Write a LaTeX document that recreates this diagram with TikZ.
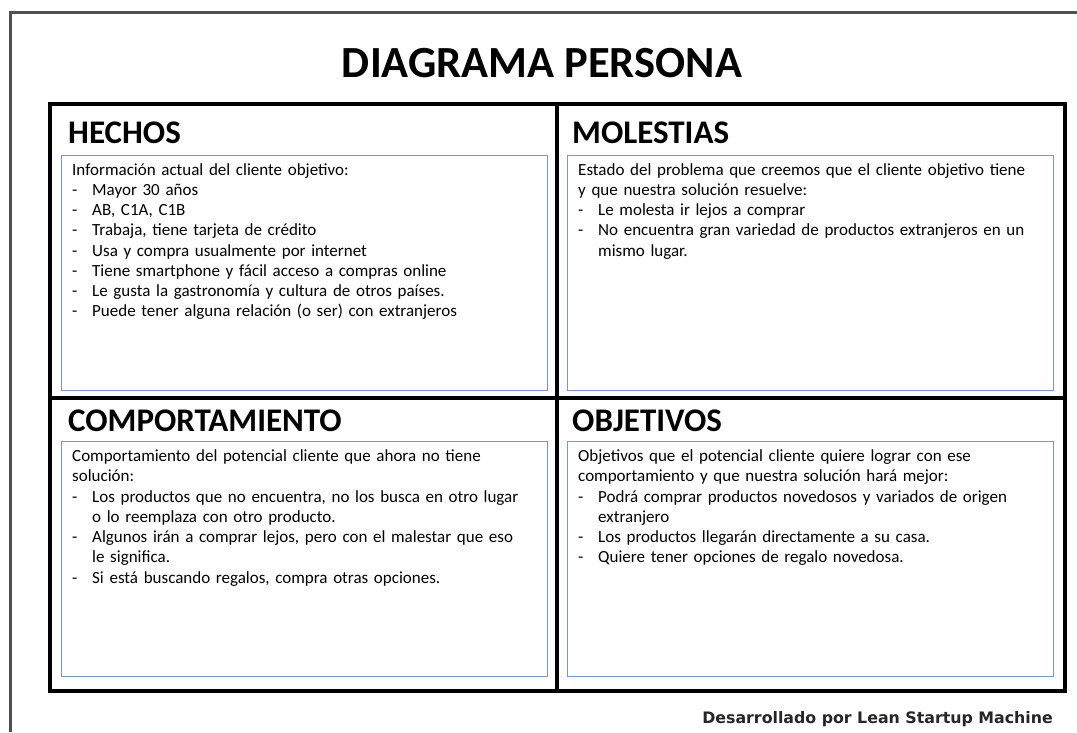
\documentclass[tikz,border=0pt]{standalone}
\usepackage{fontspec}
\setmainfont{Carlito}
\newfontfamily\creditfont{DejaVu Sans}
\usetikzlibrary{positioning}
\definecolor{panelblue}{RGB}{118,150,216}
\definecolor{framegray}{RGB}{80,80,80}
\newcommand{\dashitem}{\makebox[20pt][l]{-}}
\newcommand{\hangon}{\hspace*{20pt}}

\begin{document}
\begin{tikzpicture}
[x=1pt, y=-1pt,
   panel/.style={shape=rectangle, draw=panelblue, line width=1pt, minimum width=486pt, minimum height=235pt, anchor=north west, inner sep=0pt},
   heading/.style={anchor=base west, inner sep=0pt, font=\bfseries\fontsize{33}{33}\selectfont},
   body/.style={anchor=base west, inner sep=0pt, text width=480pt, align=left, font=\fontsize{17}{20.25}\selectfont}]
\useasboundingbox (0,0) rectangle (1077,732);
% page frame
\draw[framegray, line width=3pt] (10,732) -- (10,12.5) -- (1077,12.5);
\node[anchor=base, inner sep=0pt, font=\bfseries\fontsize{44.5}{44.5}\selectfont] (title) at (542,77.7) {DIAGRAMA PERSONA};
% grid of the four quadrants
\draw[line width=4pt] (50,104) rectangle (1065,691);
\draw[line width=4pt] (557,104) -- (557,691);
\draw[line width=4pt] (50,398) -- (1065,398);
\node[panel] (hechos) at (61,155) {};
\node[panel] (molestias) at (567,155) {};
\node[panel] (comport) at (61,441) {};
\node[panel] (objetivos) at (567,441) {};
\node[heading] (hechosT) at (68,143.5) {HECHOS};
\node[heading] (molestiasT) at (572,143.5) {MOLESTIAS};
\node[heading] (comportT) at (68,431.5) {COMPORTAMIENTO};
\node[heading] (objetivosT) at (572,431.5) {OBJETIVOS};
\node[body] (hechosB) at (72,175) {Información actual del cliente objetivo:\\
  \dashitem Mayor 30 años\\
  \dashitem AB, C1A, C1B\\
  \dashitem Trabaja, tiene tarjeta de crédito\\
  \dashitem Usa y compra usualmente por internet\\
  \dashitem Tiene smartphone y fácil acceso a compras online\\
  \dashitem Le gusta la gastronomía y cultura de otros países.\\
  \dashitem Puede tener alguna relación (o ser) con extranjeros};
\node[body] (molestiasB) at (578,175) {Estado del problema que creemos que el cliente objetivo tiene\\
  y que nuestra solución resuelve:\\
  \dashitem Le molesta ir lejos a comprar\\
  \dashitem No encuentra gran variedad de productos extranjeros en un\\
  \hangon mismo lugar.};
\node[body] (comportB) at (72,461.7) {Comportamiento del potencial cliente que ahora no tiene\\
  solución:\\
  \dashitem Los productos que no encuentra, no los busca en otro lugar\\
  \hangon o lo reemplaza con otro producto.\\
  \dashitem Algunos irán a comprar lejos, pero con el malestar que eso\\
  \hangon le significa.\\
  \dashitem Si está buscando regalos, compra otras opciones.};
\node[body] (objetivosB) at (578,461.7) {Objetivos que el potencial cliente quiere lograr con ese\\
  comportamiento y que nuestra solución hará mejor:\\
  \dashitem Podrá comprar productos novedosos y variados de origen\\
  \hangon extranjero\\
  \dashitem Los productos llegarán directamente a su casa.\\
  \dashitem Quiere tener opciones de regalo novedosa.};
\node[anchor=base east, inner sep=0pt, text=black!85, font=\creditfont\bfseries\fontsize{15.8}{15.8}\selectfont] (credit) at (1053,723) {Desarrollado por Lean Startup Machine};
\end{tikzpicture}
\end{document}
